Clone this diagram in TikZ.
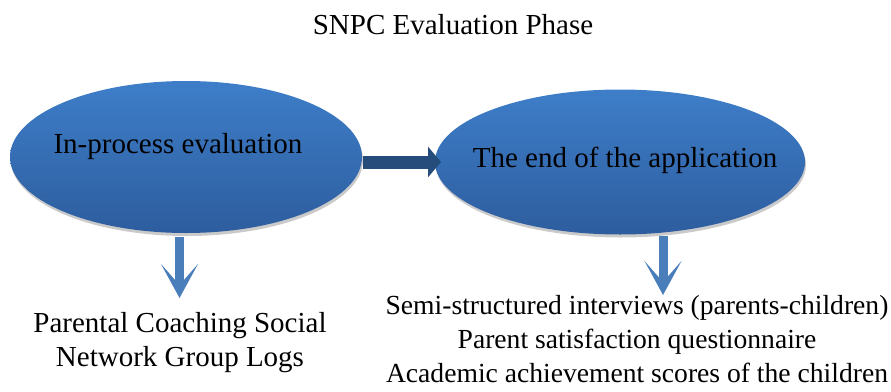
\documentclass[tikz,border=0pt]{standalone}
\usepackage{fontspec}
\setmainfont{Liberation Serif}
\usetikzlibrary{shapes.geometric,arrows.meta,shadows}
\definecolor{elltop}{RGB}{62,126,201}
\definecolor{ellbot}{RGB}{45,93,158}
\definecolor{downblue}{RGB}{74,126,187}
\definecolor{rightblue}{RGB}{38,76,124}
\begin{document}
\begin{tikzpicture}[x=1pt,y=-1pt,
  ovalbox/.style={ellipse, inner sep=0pt, top color=elltop, bottom color=ellbot, draw=none,
    drop shadow={shadow xshift=1pt, shadow yshift=-3pt, opacity=0.35, fill=black!60}},
  txt/.style={font=\fontsize{29}{34}\selectfont, inner sep=0pt, align=center},
  smalltxt/.style={font=\fontsize{27.6}{34}\selectfont, inner sep=0pt, align=center},
  downarrow/.style={draw=downblue, line width=9pt, -{Stealth[length=34pt,width=37pt,inset=21pt]}},
  rightarrow/.style={draw=rightblue, line width=13pt, -{Triangle[length=13pt,width=30pt]}}
]
\useasboundingbox (0,0) rectangle (891,391);
\node[txt] (title) at (453,25) {SNPC Evaluation Phase};
\node[ovalbox, minimum width=352pt, minimum height=152pt] (e1) at (186,157) {};
\node[ovalbox, minimum width=370pt, minimum height=145pt] (e2) at (620,162) {};
\node[txt] (t1) at (178,147) {In-process evaluation};
\node[txt] (t2) at (625,160) {The end of the application};
\coordinate (r1) at (363,162);
\coordinate (r2) at (441,162);
\draw[rightarrow] (r1) -- (r2);
\coordinate (d1s) at (179.5,237);
\coordinate (d1e) at (179.5,298);
\draw[downarrow] (d1s) -- (d1e);
\coordinate (d2s) at (663,236);
\coordinate (d2e) at (663,295);
\draw[downarrow] (d2s) -- (d2e);
\node[txt, anchor=north] (b1) at (180,312) {Parental Coaching Social\\Network Group Logs};
\node[smalltxt, anchor=north] (b2) at (637,295) {Semi-structured interviews (parents-children)\\Parent satisfaction questionnaire\\Academic achievement scores of the children};
\end{tikzpicture}
\end{document}
